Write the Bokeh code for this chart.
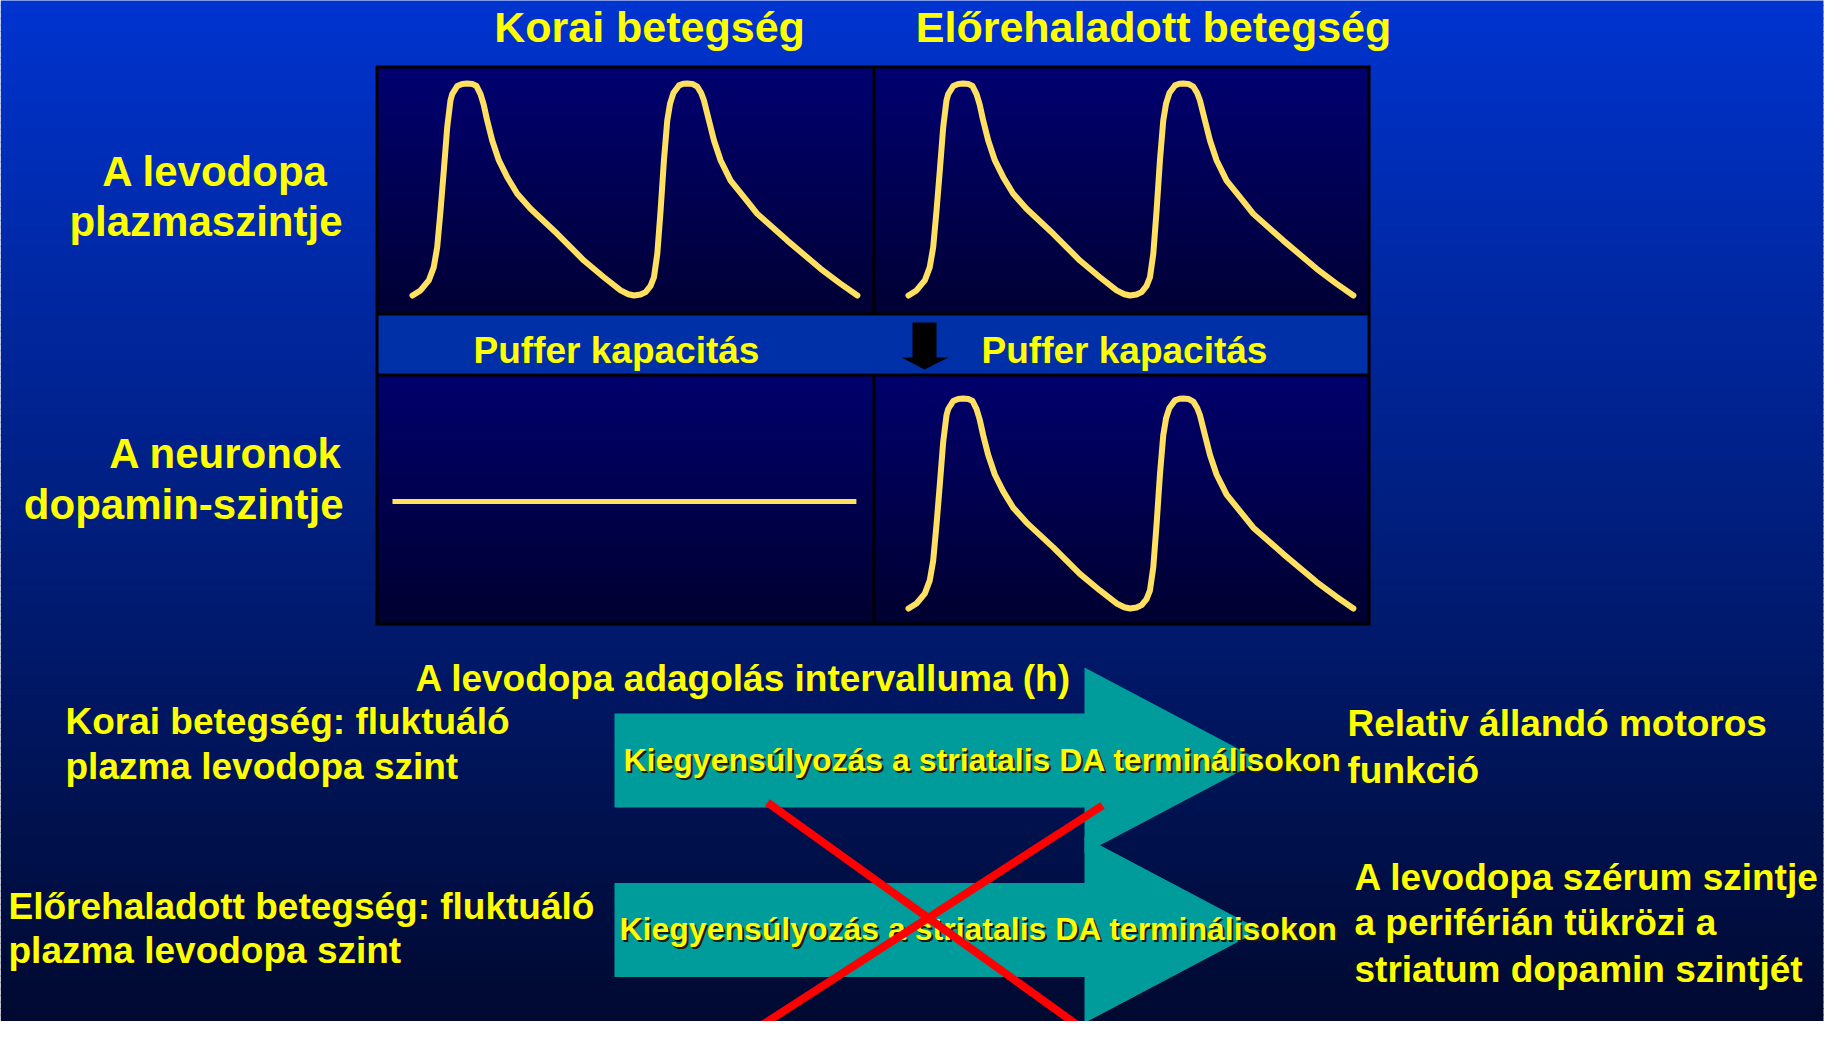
import numpy as np
from bokeh.plotting import figure
from bokeh.models import Range1d
from bokeh.core.properties import value
from bokeh.embed import file_html
from bokeh.resources import INLINE

# ---------------- data ----------------
# time since first dose (h) and relative plasma levodopa level (0..1)
hours = [0.0, 0.144, 0.293, 0.383, 0.444, 0.504, 0.563, 0.624, 0.683, 0.714, 0.804, 0.894,
         0.984, 1.074, 1.151, 1.223, 1.28, 1.343, 1.433, 1.553, 1.703, 1.883, 2.122, 2.602,
         3.081, 3.441, 3.741, 3.88, 3.981, 4.10, 4.191, 4.28, 4.341, 4.401, 4.460, 4.520,
         4.580, 4.630, 4.690, 4.790, 4.87, 4.940, 5.03, 5.121, 5.19, 5.240, 5.330, 5.420,
         5.540, 5.719, 5.959, 6.199, 6.739, 7.338, 7.698, 7.998]
plasma_level = [0.0, 0.024, 0.071, 0.134, 0.228, 0.401, 0.590, 0.794, 0.920, 0.950, 0.988, 0.998,
                1.0, 0.998, 0.988, 0.950, 0.900, 0.825, 0.731, 0.637, 0.558, 0.480, 0.409, 0.291,
                0.165, 0.086, 0.024, 0.006, 0.0, 0.005, 0.016, 0.045, 0.086, 0.197, 0.401, 0.637,
                0.825, 0.905, 0.955, 0.991, 0.999, 1.0, 0.998, 0.985, 0.955, 0.920, 0.825, 0.731,
                0.637, 0.542, 0.464, 0.385, 0.259, 0.126, 0.055, 0.0]
# early disease: neuronal dopamine level stays flat
flat_hours = [-0.36, 7.98]
flat_level = [0.51, 0.51]

col_titles = ["Korai betegség", "Előrehaladott betegség"]
row_labels_1 = ["A levodopa", "plazmaszintje"]
row_labels_2 = ["A neuronok", "dopamin-szintje"]
buffer_label = "Puffer kapacitás"
interval_label = "A levodopa adagolás intervalluma (h)"
arrow_label = "Kiegyensúlyozás a striatalis DA terminálisokon"
early_text = ["Korai betegség: fluktuáló", "plazma levodopa szint"]
adv_text = ["Előrehaladott betegség: fluktuáló", "plazma levodopa szint"]
result_early = ["Relativ állandó motoros", "funkció"]
result_adv = ["A levodopa szérum szintje", "a periférián tükrözi a", "striatum dopamin szintjét"]

YELLOW = "#ffff00"
CURVE = "#ffe060"
FONT = value("Liberation Sans")

p = figure(width=1827, height=1021, x_range=Range1d(0, 1827), y_range=Range1d(1021, 0),
           output_backend="svg", toolbar_location=None, min_border=0,
           x_axis_location=None, y_axis_location=None)
p.grid.visible = False
p.outline_line_color = None
p.background_fill_color = "white"
p.border_fill_color = "white"


def gradient(x0, x1, y0, y1, c0, c1, n):
    edges = np.linspace(y0, y1, n + 1)
    fr = (np.arange(n) + 0.5) / n
    cols = ["#%02x%02x%02x" % tuple(int(round(a + (b - a) * f)) for a, b in zip(c0, c1)) for f in fr]
    p.quad(left=x0, right=x1, top=edges[:-1], bottom=np.minimum(edges[1:] + 1.0, y1),
           fill_color=cols, line_color=None)


def txt(x, yc, s, size, align="left", color=YELLOW):
    # yc = visual centre of the capital letters
    p.text(x=[x], y=[yc], text=[s], text_font=FONT, text_font_style="bold",
           text_font_size=value(f"{size}px"), text_color=color,
           text_align=align, text_baseline="alphabetic")


# slide background
gradient(0, 1823, -2, 1040, (0, 52, 208), (0, 8, 44), 160)

# panel frame and cells
p.quad(left=375, right=1370, top=65, bottom=625, fill_color="black", line_color=None)
for (x0, x1) in [(378, 872), (875, 1367)]:
    gradient(x0, x1, 68, 312, (0, 0, 112), (0, 0, 52), 50)
    gradient(x0, x1, 376, 622, (0, 0, 108), (0, 0, 48), 50)
p.quad(left=378, right=1367, top=315, bottom=373, fill_color="#0030a8", line_color=None)

# small black arrow in buffer band
p.patch(x=[912, 936, 936, 948, 924, 901, 912, 912], y=[322, 322, 357, 357, 369, 357, 357, 322],
        fill_color="black", line_color=None)

# curves via sub-coordinate systems
def panel(x0, x1, ybase, ypeak):
    return p.subplot(x_source=Range1d(0, 8), y_source=Range1d(0, 1),
                     x_target=Range1d(x0, x1), y_target=Range1d(ybase, ypeak))

for sp in [panel(412, 857, 295, 83), panel(908, 1353, 295, 83), panel(908, 1353, 608, 398)]:
    sp.line(hours, plasma_level, line_color=CURVE, line_width=6, line_cap="round", line_join="round")
bl = panel(412, 857, 608, 398)
bl.line(flat_hours, flat_level, line_color=CURVE, line_width=5)

# teal arrows
for cy in [760, 929.5]:
    p.patch(x=[614, 1084, 1084, 1260, 1084, 1084, 614],
            y=[cy - 47, cy - 47, cy - 93, cy, cy + 93, cy + 47, cy + 47],
            fill_color="#009b9b", line_color=None)

# texts (y = centre line)
txt(649, 26, col_titles[0], 43, "center")
txt(1153, 26, col_titles[1], 43, "center")
txt(328, 171, row_labels_1[0], 42, "right")
txt(342, 221, row_labels_1[1], 42, "right")
txt(342, 453, row_labels_2[0], 42, "right")
txt(343, 504, row_labels_2[1], 42, "right")
txt(616, 350, buffer_label, 37, "center")
txt(1124, 350, buffer_label, 37, "center")
txt(415, 678, interval_label, 37)
txt(65, 721, early_text[0], 37)
txt(65, 766, early_text[1], 37)
txt(8, 906, adv_text[0], 37)
txt(8, 950, adv_text[1], 37)
for (x, y) in [(623, 759), (619, 928)]:
    txt(x + 2, y + 2, arrow_label, 32, color="#1a1a00")
    txt(x, y, arrow_label, 32)
txt(1347, 723, result_early[0], 37)
txt(1347, 770, result_early[1], 37)
txt(1354, 877, result_adv[0], 37)
txt(1354, 922, result_adv[1], 37)
txt(1354, 969, result_adv[2], 37)

# red cross
p.segment(x0=[767, 1102], y0=[802, 805], x1=[1090, 747], y1=[1034, 1034],
          line_color="#ff0000", line_width=8)

open("out.html", "w").write(file_html(p, INLINE))
